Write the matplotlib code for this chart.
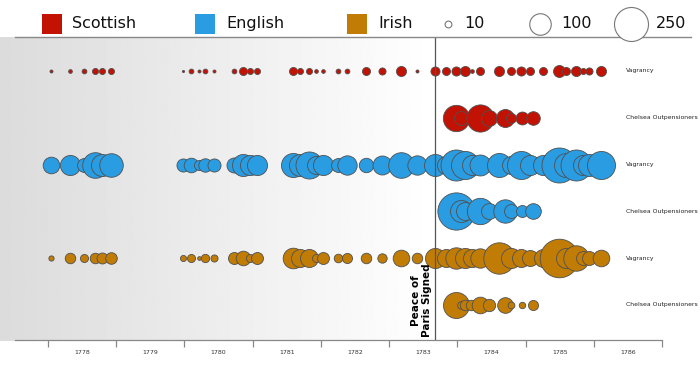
import matplotlib
matplotlib.use('Agg')
import matplotlib.pyplot as plt
from matplotlib.patches import Rectangle
import numpy as np

# ---------------- data ----------------
nations = ['Scottish', 'English', 'Irish']
colors = ['#c11204', '#299ce2', '#c07c04']
row_labels = ['Vagrancy', 'Chelsea Outpensioners'] * 3

# Old Bailey session dates (decimal years) for the vagrancy rows
vag_dates = [1778.04, 1778.32, 1778.53, 1778.69, 1778.79, 1778.92,
             1779.98, 1780.10, 1780.21, 1780.30, 1780.43,
             1780.73, 1780.86, 1780.96, 1781.07,
             1781.59, 1781.70, 1781.83, 1781.93, 1782.03,
             1782.25, 1782.38, 1782.66, 1782.90, 1783.18, 1783.41,
             1783.67, 1783.83, 1783.98, 1784.11, 1784.22, 1784.33,
             1784.61, 1784.79, 1784.94, 1785.07, 1785.26, 1785.49,
             1785.60, 1785.74, 1785.84, 1785.93, 1786.10]

scot_vag = [2, 3, 5, 8, 8, 8, 1, 5, 2, 5, 2, 5, 14, 8, 8, 14, 8, 8, 3, 3,
            5, 5, 14, 11, 22, 2,
            18, 14, 18, 22, 3, 14, 22, 14, 18, 14, 14, 31, 14, 22, 8, 11, 22]
eng_vag = [60, 87, 42, 142, 105, 120, 37, 46, 22, 39, 37, 49, 105, 87, 87,
           125, 105, 158, 70, 87, 42, 81, 45, 78, 142, 81,
           105, 70, 208, 170, 87, 95, 125, 70, 170, 87, 87, 265, 125, 208, 87, 105, 170]
irish_vag = [6, 24, 14, 24, 26, 29, 8, 14, 3, 15, 11, 31, 46, 14, 31,
             92, 70, 70, 14, 31, 16, 22, 24, 19, 60, 24,
             87, 70, 99, 87, 70, 81, 213, 87, 70, 55, 70, 322, 87, 140, 42, 42, 60]

chel_dates = [1783.98, 1784.06, 1784.11, 1784.20, 1784.33, 1784.46,
              1784.70, 1784.79, 1784.95, 1785.11]
scot_chel = [150, 42, 0, 0, 160, 55, 70, 22, 36, 40]
eng_chel = [300, 105, 70, 0, 150, 55, 118, 42, 31, 53]
irish_chel = [146, 13, 24, 24, 60, 33, 53, 10, 9, 22]

size_legend = [10, 100, 250]
years = list(range(1778, 1788))
peace_date = 1783.671

rows = [(vag_dates, scot_vag, 0), (chel_dates, scot_chel, 0),
        (vag_dates, eng_vag, 1), (chel_dates, eng_chel, 1),
        (vag_dates, irish_vag, 2), (chel_dates, irish_chel, 2)]


def area(v):
    # radius (px) = 1.075*sqrt(v), dpi=100 -> marker area in pt^2
    return (2 * 1.075 * np.sqrt(np.asarray(v, float)) * 0.72) ** 2


# ---------------- figure ----------------
fig = plt.figure(figsize=(7, 3.85), dpi=100)
fig.patch.set_facecolor('white')

ax = fig.add_axes([15 / 700, 45 / 385, 647 / 700, 303 / 385])

# gradient background before the peace
grad = np.linspace(0.86, 1.0, 256).reshape(1, -1)
im = ax.imshow(grad, cmap='gray', vmin=0, vmax=1, aspect='auto',
               extent=[1777.296, peace_date, 5.77, -0.72],
               interpolation='bilinear', zorder=0)
im.set_clip_on(False)

ax.set_xlim(1777.516, 1787.0)
ax.set_ylim(5.748, -0.7265)

for i, (dates, vals, n) in enumerate(rows):
    for d, v in zip(dates, vals):
        if v <= 0:
            continue
        ax.scatter([d], [i], s=area(v), color=colors[n], edgecolor='#505050',
                   linewidth=0.6, zorder=3, clip_on=False)
    ax.text(1786.475, i, row_labels[i], fontsize=4.4, color='#222222',
            ha='left', va='center')

ax.axvline(peace_date, color='#555555', lw=0.9, zorder=5)
ax.text(peace_date - 0.045, 5.69, 'Peace of\nParis Signed', rotation=90,
        ha='right', va='bottom', fontsize=7.5, fontweight='bold',
        multialignment='center', linespacing=1.05, zorder=6)

for s in ['left', 'right', 'top']:
    ax.spines[s].set_visible(False)
ax.spines['bottom'].set_color('#888888')
ax.spines['bottom'].set_linewidth(0.9)
ax.set_yticks([])
ax.set_xticks(years)
ax.set_xticklabels([])
ax.set_xticks([y + 0.5 for y in years[:-1]], minor=True)
ax.set_xticklabels([str(y) for y in years[:-1]], minor=True)
ax.tick_params(axis='x', which='major', length=5, width=0.9, color='#888888')
ax.tick_params(axis='x', which='minor', length=0, pad=7.5, labelsize=4.5,
               labelcolor='#333333')
ax.set_facecolor('none')

# ---------------- legend ----------------
lax = fig.add_axes([0, 1 - 37 / 385, 1, 37 / 385])
lax.set_xlim(0, 700)
lax.set_ylim(37, 0)
lax.axis('off')
sq_x = [42, 195, 347]
tx_x = [72, 226, 378]
for n in range(3):
    lax.add_patch(Rectangle((sq_x[n], 13.5), 19.5, 20, facecolor=colors[n],
                            edgecolor='none'))
    lax.text(tx_x[n], 23.5, nations[n], fontsize=11.5, va='center', ha='left',
             color='#111111')
c_x = [448, 540, 631]
ct_x = [464, 561, 656]
for k, v in enumerate(size_legend):
    lax.scatter([c_x[k]], [23.5], s=area(v), facecolor='white',
                edgecolor='#777777', linewidth=0.8, clip_on=False, zorder=3)
    lax.text(ct_x[k], 23.5, str(v), fontsize=11.5, va='center', ha='left',
             color='#111111')
lax.plot([15, 691], [36.6, 36.6], color='#888888', lw=1.0, clip_on=False)

fig.savefig('out.png', dpi=100)
